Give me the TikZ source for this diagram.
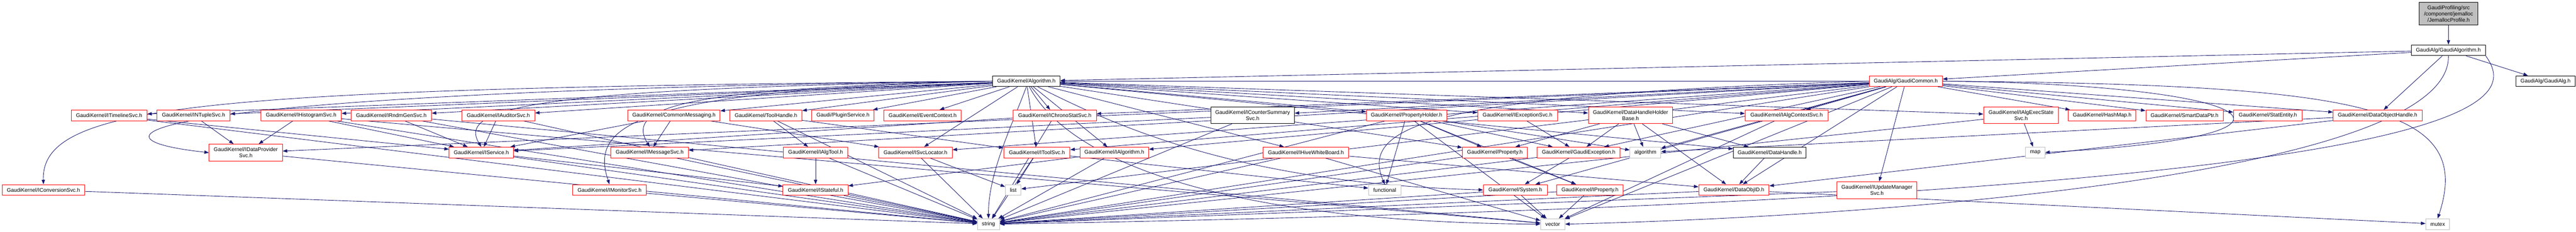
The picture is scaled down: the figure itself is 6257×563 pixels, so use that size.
\documentclass[tikz,border=0pt]{standalone}
\usepackage{fontspec}
\setmainfont{Liberation Sans}
\usetikzlibrary{arrows.meta}
\definecolor{mblue}{HTML}{191970}
\definecolor{gbord}{HTML}{BFBFBF}
\pgfdeclarelayer{bg}
\pgfsetlayers{bg,main}
\begin{document}
\begin{tikzpicture}[x=1pt,y=-1pt,
  nb/.style={draw, rectangle, inner sep=0pt, line width=1.2pt, fill=white, align=center,
    font={\fontsize{13pt}{15pt}\selectfont}, minimum height=26pt},
  rb/.style={nb, draw=red},
  kb/.style={nb, draw=black},
  gb/.style={nb, draw=gbord},
  e/.style={draw=mblue, line width=1.1pt, -{Triangle[length=11pt,width=8pt]}}]
\useasboundingbox (0,0) rectangle (6257,563);
% row 0,1,2
\node[kb, fill=gbord, minimum width=143pt, minimum height=56pt] (root) at (5947.5,33) {GaudiProfiling/src\\/component/jemalloc\\/JemallocProfile.h};
\node[kb, minimum width=180pt] (galgo) at (5947,122) {GaudiAlg/GaudiAlgorithm.h};
\node[kb, minimum width=164pt] (alg) at (2493,197) {GaudiKernel/Algorithm.h};
\node[rb, minimum width=178pt] (gcom) at (4629,197) {GaudiAlg/GaudiCommon.h};
\node[kb, minimum width=144pt] (galg) at (6183,197) {GaudiAlg/GaudiAlg.h};
% row A
\node[rb, minimum width=184pt] (tl) at (265,280) {GaudiKernel/ITimelineSvc.h};
\node[rb, minimum width=178pt] (nt) at (470,280) {GaudiKernel/INTupleSvc.h};
\node[rb, minimum width=195pt] (hs) at (731.5,280) {GaudiKernel/IHistogramSvc.h};
\node[rb, minimum width=195pt] (rg) at (950.5,280) {GaudiKernel/IRndmGenSvc.h};
\node[rb, minimum width=177pt] (au) at (1210.5,280) {GaudiKernel/IAuditorSvc.h};
\node[rb, minimum width=224pt] (cm) at (1637,280) {GaudiKernel/CommonMessaging.h};
\node[rb, minimum width=175pt] (th) at (1860.5,280) {GaudiKernel/ToolHandle.h};
\node[rb, minimum width=151pt] (ps) at (2047.5,280) {Gaudi/PluginService.h};
\node[rb, minimum width=188pt] (ec) at (2241,280) {GaudiKernel/EventContext.h};
\node[rb, minimum width=202pt] (cs) at (2562,280) {GaudiKernel/IChronoStatSvc.h};
\node[kb, minimum width=203pt, minimum height=40pt] (cnt) at (3042.5,280) {GaudiKernel/ICounterSummary\\Svc.h};
\node[rb, minimum width=195pt] (ph) at (3416.5,280) {GaudiKernel/PropertyHolder.h};
\node[rb, minimum width=194pt] (es) at (3686,280) {GaudiKernel/IExceptionSvc.h};
\node[rb, minimum width=205pt, minimum height=40pt] (dhhb) at (3960.5,280) {GaudiKernel/DataHandleHolder\\Base.h};
\node[rb, minimum width=201pt] (acs) at (4339.5,280) {GaudiKernel/IAlgContextSvc.h};
\node[rb, minimum width=182pt, minimum height=40pt] (aes) at (4909,280) {GaudiKernel/IAlgExecState\\Svc.h};
\node[rb, minimum width=164pt] (hm) at (5106,280) {GaudiKernel/HashMap.h};
\node[rb, minimum width=188pt] (sdp) at (5306,280) {GaudiKernel/SmartDataPtr.h};
\node[rb, minimum width=167pt] (se) at (5508.5,280) {GaudiKernel/StatEntity.h};
\node[rb, minimum width=216pt] (doh) at (5775,280) {GaudiKernel/DataObjectHandle.h};
% row B
\node[rb, minimum width=178pt, minimum height=41pt] (dps) at (597,370.5) {GaudiKernel/IDataProvider\\Svc.h};
\node[rb, minimum width=156pt] (svc) at (1169,370) {GaudiKernel/IService.h};
\node[rb, minimum width=188pt] (msg) at (1578,370) {GaudiKernel/IMessageSvc.h};
\node[rb, minimum width=156pt] (at) at (1981,370) {GaudiKernel/IAlgTool.h};
\node[rb, minimum width=179pt] (sl) at (2223.5,370) {GaudiKernel/ISvcLocator.h};
\node[rb, minimum width=161pt] (ts) at (2518.5,370) {GaudiKernel/IToolSvc.h};
\node[rb, minimum width=167pt] (ia) at (2706.5,370) {GaudiKernel/IAlgorithm.h};
\node[rb, minimum width=208pt] (hwb) at (3172,370) {GaudiKernel/IHiveWhiteBoard.h};
\node[rb, minimum width=158pt] (prop) at (3631,370) {GaudiKernel/Property.h};
\node[rb, minimum width=201pt] (gex) at (3834.5,370) {GaudiKernel/GaudiException.h};
\node[gb, minimum width=75pt] (algo) at (3996.5,370) {algorithm};
\node[kb, minimum width=177pt] (dh) at (4298.5,370) {GaudiKernel/DataHandle.h};
\node[gb, minimum width=47pt] (map) at (4943.5,370) {map};
% row C
\node[rb, minimum width=201pt] (conv) at (105.5,461) {GaudiKernel/IConversionSvc.h};
\node[rb, minimum width=179pt] (mon) at (1480.5,461) {GaudiKernel/IMonitorSvc.h};
\node[rb, minimum width=158pt] (sta) at (1981,461) {GaudiKernel/IStateful.h};
\node[gb, minimum width=38pt] (list) at (2461,461) {list};
\node[gb, minimum width=79pt] (func) at (3363.5,461) {functional};
\node[rb, minimum width=155pt] (sys) at (3680.5,461) {GaudiKernel/System.h};
\node[rb, minimum width=162pt] (ip) at (3862,461) {GaudiKernel/IProperty.h};
\node[rb, minimum width=171pt] (doid) at (4211.5,461) {GaudiKernel/DataObjID.h};
\node[rb, minimum width=194pt, minimum height=41pt] (ums) at (4559,461.5) {GaudiKernel/IUpdateManager\\Svc.h};
% row D
\node[gb, minimum width=54pt] (str) at (2401,544) {string};
\node[gb, minimum width=59pt] (vec) at (3771.5,544) {vector};
\node[gb, minimum width=58pt] (mtx) at (5921,544) {mutex};

\begin{pgfonlayer}{bg}
\fill[white] (0,0) rectangle (6257,563);
% top
\draw[e] (root) -- (galgo);
\draw[e] (galgo) -- (galg);
\draw[e] (galgo) -- (gcom);
\draw[e] (galgo) -- (alg);
\draw[e] (galgo) -- (doh);
\draw[e] (galgo.south) .. controls (5955,420) and (4600,525) .. (vec.east);
\draw[e] (galgo.south east) .. controls (6120,250) and (6100,480) .. (str.east);
% Algorithm.h
\draw[e] (alg.west) .. controls (500,215) and (100,250) .. (conv.north);
\draw[e] (alg.west) .. controls (400,220) and (140,330) .. (dps.west);
\draw[e] (alg) -- (tl);
\draw[e] (alg) -- (nt);
\draw[e] (alg) -- (hs);
\draw[e] (alg) -- (rg);
\draw[e] (alg) -- (au);
\draw[e] (alg) -- (cm);
\draw[e] (alg) -- (th);
\draw[e] (alg) -- (ps);
\draw[e] (alg) -- (ec);
\draw[e] (alg) -- (cs);
\draw[e] (alg.west) .. controls (1300,215) and (1110,260) .. (svc.north);
\draw[e] (alg.west) .. controls (1650,215) and (1520,260) .. (msg.north);
\draw[e] (alg.west) .. controls (1550,220) and (1430,300) .. (mon.north);
\draw[e] (alg) -- (sl);
\draw[e] (alg) -- (ts);
\draw[e] (alg) -- (ia);
\draw[e] (alg) -- (hwb);
\draw[e] (alg) -- (ph);
\draw[e] (alg) -- (es);
\draw[e] (alg) -- (dhhb);
\draw[e] (alg) -- (acs);
\draw[e] (alg) -- (aes);
\draw[e] (alg) -- (prop);
\draw[e] (alg) -- (dh);
\draw[e] (alg) .. controls (2700,300) and (3000,445) .. (sys.west);
\draw[e] (alg.south) .. controls (2460,300) and (2400,420) .. (str.north);
\draw[e] (alg) .. controls (2600,400) and (3000,540) .. (vec.west);
% GaudiCommon.h
\draw[e] (gcom) -- (alg);
\draw[e] (gcom) -- (acs);
\draw[e] (gcom) -- (hm);
\draw[e] (gcom) -- (sdp);
\draw[e] (gcom) -- (se);
\draw[e] (gcom) -- (doh);
\draw[e] (gcom) -- (cnt);
\draw[e] (gcom) -- (cs);
\draw[e] (gcom) -- (gex);
\draw[e] (gcom) -- (ia);
\draw[e] (gcom) -- (ts);
\draw[e] (gcom) -- (ums);
\draw[e] (gcom) -- (doid);
\draw[e] (gcom) -- (sys);
\draw[e] (gcom) -- (algo);
\draw[e] (gcom) -- (list);
\draw[e] (gcom) -- (dps);
\draw[e] (gcom) -- (msg);
\draw[e] (gcom) -- (sl);
\draw[e] (gcom) -- (str);
\draw[e] (gcom) -- (vec);
\draw[e] (gcom.west) .. controls (3500,230) and (3300,300) .. (func.north);
\draw[e] (gcom.east) .. controls (5500,205) and (5700,330) .. (map.east);
\draw[e] (gcom.east) .. controls (5750,205) and (6010,260) .. (mtx.north);
% second level
\draw[e] (tl) -- (svc);
\draw[e] (tl) -- (str);
\draw[e] (nt) -- (dps);
\draw[e] (hs) -- (dps);
\draw[e] (hs) -- (svc);
\draw[e] (hs) -- (str);
\draw[e] (hs) -- (vec);
\draw[e] (dps) -- (str);
\draw[e] (conv) -- (str);
\draw[e] (rg) -- (svc);
\draw[e] (rg) -- (str);
\draw[e] (rg) -- (vec);
\draw[e] (au) -- (svc);
\draw[e] (au) -- (str);
\draw[e] (svc) -- (sta);
\draw[e] (svc) -- (str);
\draw[e] (mon) -- (str);
\draw[e] (msg) -- (str);
\draw[e] (cm) -- (msg);
\draw[e] (cm) -- (svc);
\draw[e] (cm) -- (sl);
\draw[e] (th) -- (at);
\draw[e] (th) -- (ts);
\draw[e] (th) -- (str);
\draw[e] (at) -- (sta);
\draw[e] (at) -- (str);
\draw[e] (sl) -- (str);
\draw[e] (sl) -- (list);
\draw[e] (sta) -- (str);
\draw[e] (cs) -- (svc);
\draw[e] (cs) -- (str);
\draw[e] (cnt) -- (svc);
\draw[e] (cnt) -- (str);
\draw[e] (ts) -- (list);
\draw[e] (ts) -- (str);
\draw[e] (ts) -- (func);
\draw[e] (ia) -- (sta);
\draw[e] (ia) -- (str);
\draw[e] (hwb) -- (str);
\draw[e] (hwb) -- (doid);
\draw[e] (hwb) -- (vec);
\draw[e] (ph) -- (func);
\draw[e] (ph) -- (vec);
\draw[e] (ph) -- (prop);
\draw[e] (ph) -- (ip);
\draw[e] (ph) -- (str);
\draw[e] (ph) -- (algo);
\draw[e] (ph) -- (gex);
\draw[e] (es) -- (gex);
\draw[e] (prop) -- (str);
\draw[e] (prop) -- (ip);
\draw[e] (gex) -- (sys);
\draw[e] (gex) -- (str);
\draw[e] (sys) -- (vec);
\draw[e] (sys) -- (str);
\draw[e] (ip) -- (vec);
\draw[e] (ip) -- (str);
\draw[e] (dhhb) -- (gex);
\draw[e] (dhhb) -- (prop);
\draw[e] (dhhb) -- (algo);
\draw[e] (dhhb) -- (doid);
\draw[e] (dhhb) -- (dh);
\draw[e] (acs) -- (vec);
\draw[e] (dh) -- (doid);
\draw[e] (doid) -- (str);
\draw[e] (doid) -- (mtx);
\draw[e] (ums) -- (str);
\draw[e] (aes) -- (map);
\draw[e] (aes) -- (str);
\draw[e] (doh) -- (algo);
\draw[e] (doh) -- (doid);
\end{pgfonlayer}
\end{tikzpicture}
\end{document}
